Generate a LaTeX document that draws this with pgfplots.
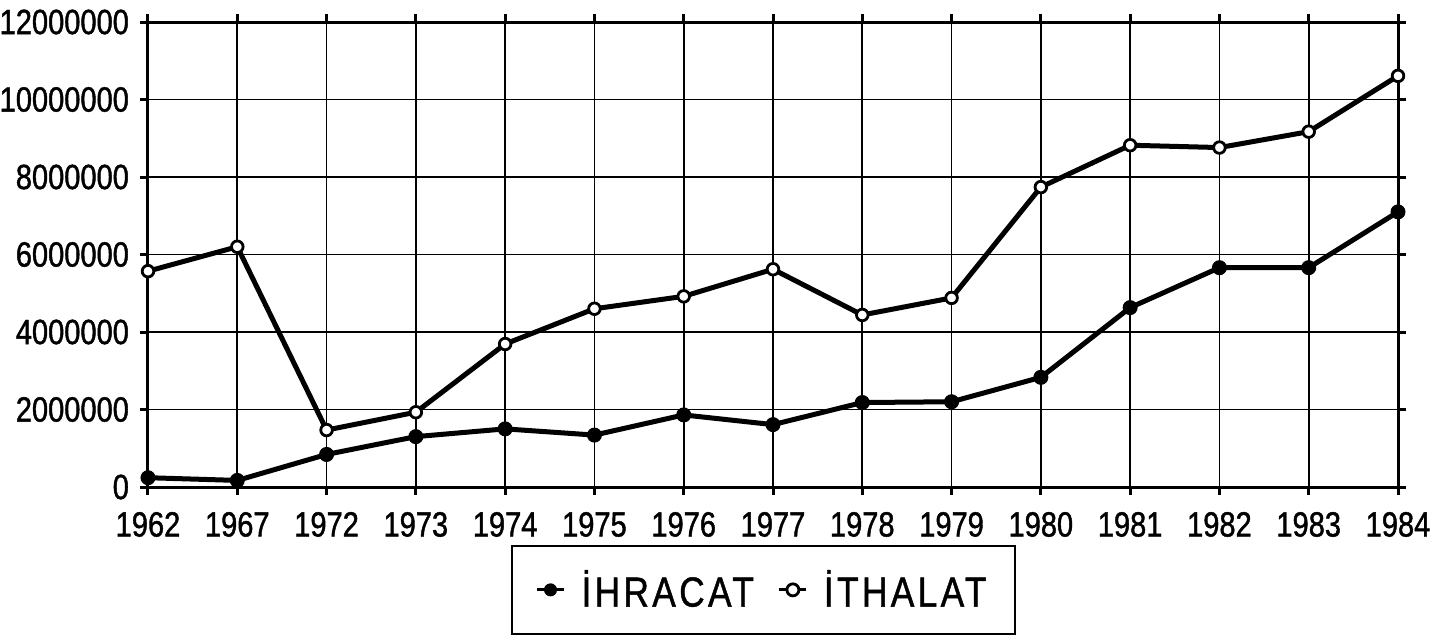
\documentclass[border=0pt]{standalone}
\usepackage{pgfplots}
\pgfplotsset{compat=1.18}
\usepackage{fontspec}
\setmainfont{Liberation Sans}
\newfontfamily\tickfont[FakeStretch=0.83, FakeBold=1.2]{Liberation Sans}
\newfontfamily\legfont[FakeStretch=0.84, LetterSpace=8, FakeBold=1]{Liberation Sans}
\begin{document}
\begin{tikzpicture}
\begin{axis}[
  at={(0,0)}, anchor=south west,
  width=625pt, height=232.5pt, scale only axis,
  xmin=0, xmax=14, ymin=0, ymax=12000000,
  xtick={0,...,14},
  xticklabels={1962,1967,1972,1973,1974,1975,1976,1977,1978,1979,1980,1981,1982,1983,1984},
  ytick={0,2000000,4000000,6000000,8000000,10000000,12000000},
  yticklabels={0,2000000,4000000,6000000,8000000,10000000,12000000},
  scaled y ticks=false,
  grid=major,
  grid style={black, line width=0.9pt},
  axis line style={black, line width=1.5pt},
  tick style={black, line width=1.5pt},
  tick align=outside, major tick length=4pt,
  ticklabel style={font=\tickfont\fontsize{17.5}{20}\selectfont},
  xticklabel style={yshift=-5pt},
  yticklabel style={xshift=-2pt},
  legend style={at={(0.492,-0.125)}, anchor=north, draw=black, line width=1pt,
    font=\legfont\fontsize{21}{24}\selectfont,
    legend columns=2, inner xsep=12pt, inner ysep=10pt,
    /tikz/every odd column/.append style={column sep=6pt},
    /tikz/every even column/.append style={column sep=10pt}},
  legend cell align=left,
  legend image code/.code={\draw[#1, line width=1.5pt, mark size=3pt, mark repeat=2, mark phase=2] plot coordinates {(0pt,0pt) (6.75pt,0pt) (13.5pt,0pt)};},
]
\addplot[black, line width=2.5pt, mark=*, mark size=3.5pt, mark options={fill=black, line width=0.5pt}]
  coordinates {(0,240000) (1,170000) (2,840000) (3,1300000) (4,1500000) (5,1340000) (6,1860000) (7,1610000) (8,2180000) (9,2200000) (10,2830000) (11,4630000) (12,5660000) (13,5660000) (14,7100000)};
\addlegendentry{İHRACAT}
\addplot[black, line width=2.5pt, mark=*, mark size=2.9pt, mark options={fill=white, line width=1.4pt}]
  coordinates {(0,5570000) (1,6200000) (2,1470000) (3,1930000) (4,3690000) (5,4600000) (6,4920000) (7,5620000) (8,4440000) (9,4880000) (10,7740000) (11,8820000) (12,8760000) (13,9170000) (14,10610000)};
\addlegendentry{İTHALAT}
\end{axis}
\pgfresetboundingbox
\path (-74pt,-73.5pt) rectangle (651.5pt,243.5pt);
\end{tikzpicture}
\end{document}
